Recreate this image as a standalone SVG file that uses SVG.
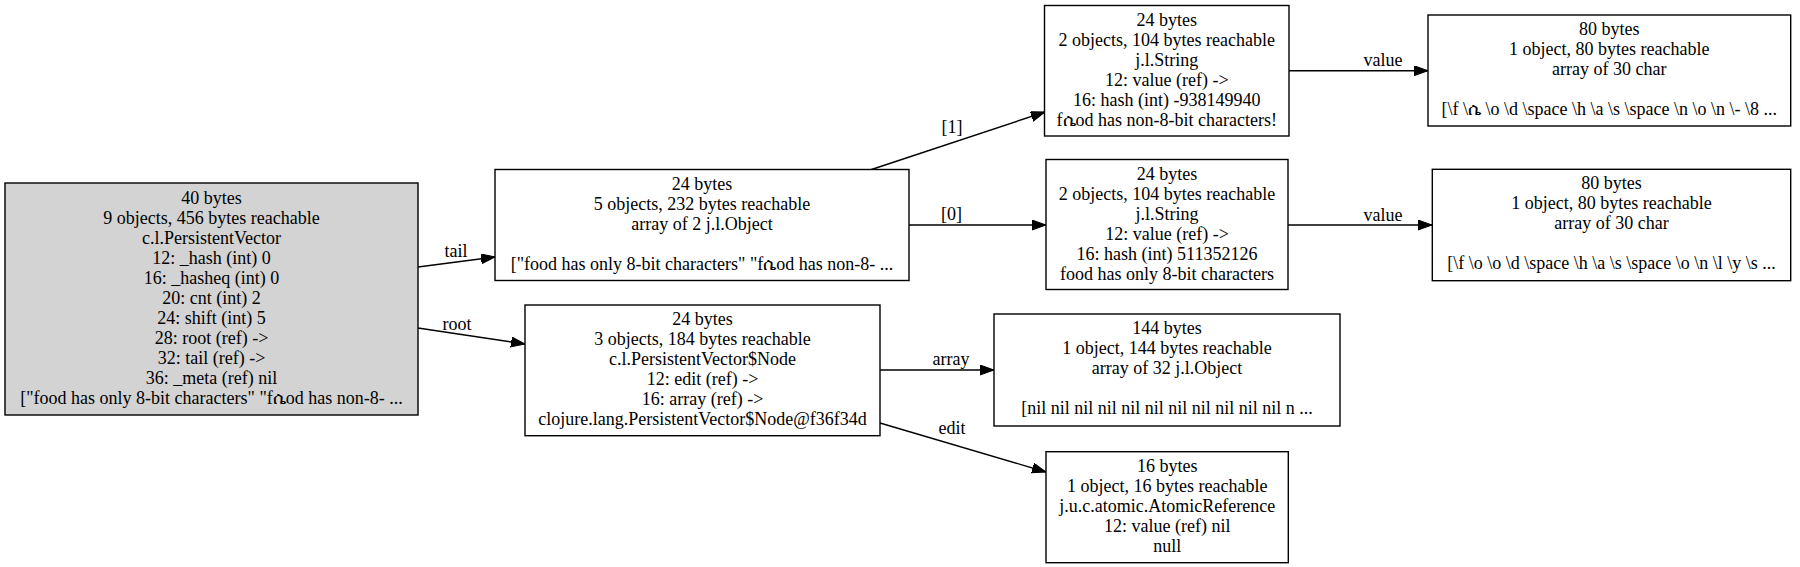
<svg xmlns="http://www.w3.org/2000/svg" width="1800" height="567" viewBox="0 0 1800 567">
<style>
  .box { fill: #ffffff; stroke: #000000; stroke-width: 1.4; }
  .root { fill: #d3d3d3; }
  text { font-family: "Liberation Serif", "DejaVu Serif", "DejaVu Sans", serif; font-size: 18px; fill: #000000; text-anchor: middle; }
  .edge { fill: none; stroke: #000000; stroke-width: 1.4; marker-end: url(#arrow); }
</style>
<defs>
  <marker id="arrow" markerUnits="userSpaceOnUse" markerWidth="15" markerHeight="11" refX="14" refY="5" orient="auto">
    <path d="M0,0 L14,5 L0,10 z" fill="#000000" stroke="#000000" stroke-width="1"/>
  </marker>
</defs>
<rect width="1800" height="567" fill="#ffffff"/>

<g id="connectors">
  <g id="e-tail"><path class="edge" d="M418,267 L495,257"/><text x="456" y="257">tail</text></g>
  <g id="e-root"><path class="edge" d="M418,328 L525,344"/><text x="457" y="330">root</text></g>
  <g id="e-1"><path class="edge" d="M870,170 L1045,112"/><text x="952" y="133">[1]</text></g>
  <g id="e-0"><path class="edge" d="M909,225 L1046,225"/><text x="951.5" y="220">[0]</text></g>
  <g id="e-value1"><path class="edge" d="M1289,70.7 L1428,70.7"/><text x="1383" y="66">value</text></g>
  <g id="e-value2"><path class="edge" d="M1288,225 L1432,225"/><text x="1383" y="221">value</text></g>
  <g id="e-array"><path class="edge" d="M880,370 L994,370"/><text x="951" y="365">array</text></g>
  <g id="e-edit"><path class="edge" d="M880,423 L1046,472"/><text x="952" y="434">edit</text></g>
</g>

<g id="n-vector">
  <rect class="box root" x="5" y="183" width="413" height="232"/>
  <text x="211.5" y="204">40 bytes</text>
  <text x="211.5" y="224">9 objects, 456 bytes reachable</text>
  <text x="211.5" y="244">c.l.PersistentVector</text>
  <text x="211.5" y="264">12: _hash (int) 0</text>
  <text x="211.5" y="284">16: _hasheq (int) 0</text>
  <text x="211.5" y="304">20: cnt (int) 2</text>
  <text x="211.5" y="324">24: shift (int) 5</text>
  <text x="211.5" y="344">28: root (ref) -&gt;</text>
  <text x="211.5" y="364">32: tail (ref) -&gt;</text>
  <text x="211.5" y="384">36: _meta (ref) nil</text>
  <text x="211.5" y="404">["food has only 8-bit characters" "fሴod has non-8- ...</text>
</g>

<g id="n-tail">
  <rect class="box" x="495" y="169.5" width="414" height="111"/>
  <text x="702" y="189.5">24 bytes</text>
  <text x="702" y="209.5">5 objects, 232 bytes reachable</text>
  <text x="702" y="229.5">array of 2 j.l.Object</text>
  <text x="702" y="269.5">["food has only 8-bit characters" "fሴod has non-8- ...</text>
</g>

<g id="n-string1">
  <rect class="box" x="1044.5" y="5.5" width="244.5" height="130.5"/>
  <text x="1166.8" y="25.5">24 bytes</text>
  <text x="1166.8" y="45.5">2 objects, 104 bytes reachable</text>
  <text x="1166.8" y="65.5">j.l.String</text>
  <text x="1166.8" y="85.5">12: value (ref) -&gt;</text>
  <text x="1166.8" y="105.5">16: hash (int) -938149940</text>
  <text x="1166.8" y="125.5">fሴod has non-8-bit characters!</text>
</g>

<g id="n-chars1">
  <rect class="box" x="1428" y="15" width="362.7" height="111"/>
  <text x="1609.3" y="35">80 bytes</text>
  <text x="1609.3" y="55">1 object, 80 bytes reachable</text>
  <text x="1609.3" y="75">array of 30 char</text>
  <text x="1609.3" y="115">[\f \ሴ \o \d \space \h \a \s \space \n \o \n \- \8 ...</text>
</g>

<g id="n-string2">
  <rect class="box" x="1046" y="159.5" width="242" height="130"/>
  <text x="1167" y="179.5">24 bytes</text>
  <text x="1167" y="199.5">2 objects, 104 bytes reachable</text>
  <text x="1167" y="219.5">j.l.String</text>
  <text x="1167" y="239.5">12: value (ref) -&gt;</text>
  <text x="1167" y="259.5">16: hash (int) 511352126</text>
  <text x="1167" y="279.5">food has only 8-bit characters</text>
</g>

<g id="n-chars2">
  <rect class="box" x="1432.3" y="169.3" width="358.4" height="111.4"/>
  <text x="1611.5" y="189.3">80 bytes</text>
  <text x="1611.5" y="209.3">1 object, 80 bytes reachable</text>
  <text x="1611.5" y="229.3">array of 30 char</text>
  <text x="1611.5" y="269.3">[\f \o \o \d \space \h \a \s \space \o \n \l \y \s ...</text>
</g>

<g id="n-node">
  <rect class="box" x="525" y="305" width="355" height="130.7"/>
  <text x="702.5" y="325">24 bytes</text>
  <text x="702.5" y="345">3 objects, 184 bytes reachable</text>
  <text x="702.5" y="365">c.l.PersistentVector$Node</text>
  <text x="702.5" y="385">12: edit (ref) -&gt;</text>
  <text x="702.5" y="405">16: array (ref) -&gt;</text>
  <text x="702.5" y="425">clojure.lang.PersistentVector$Node@f36f34d</text>
</g>

<g id="n-array32">
  <rect class="box" x="994" y="314" width="346" height="112"/>
  <text x="1167" y="334">144 bytes</text>
  <text x="1167" y="354">1 object, 144 bytes reachable</text>
  <text x="1167" y="374">array of 32 j.l.Object</text>
  <text x="1167" y="414">[nil nil nil nil nil nil nil nil nil nil nil n ...</text>
</g>

<g id="n-atomic">
  <rect class="box" x="1046" y="451.7" width="242.3" height="111"/>
  <text x="1167.2" y="471.7">16 bytes</text>
  <text x="1167.2" y="491.7">1 object, 16 bytes reachable</text>
  <text x="1167.2" y="511.7">j.u.c.atomic.AtomicReference</text>
  <text x="1167.2" y="531.7">12: value (ref) nil</text>
  <text x="1167.2" y="551.7">null</text>
</g>
</svg>
